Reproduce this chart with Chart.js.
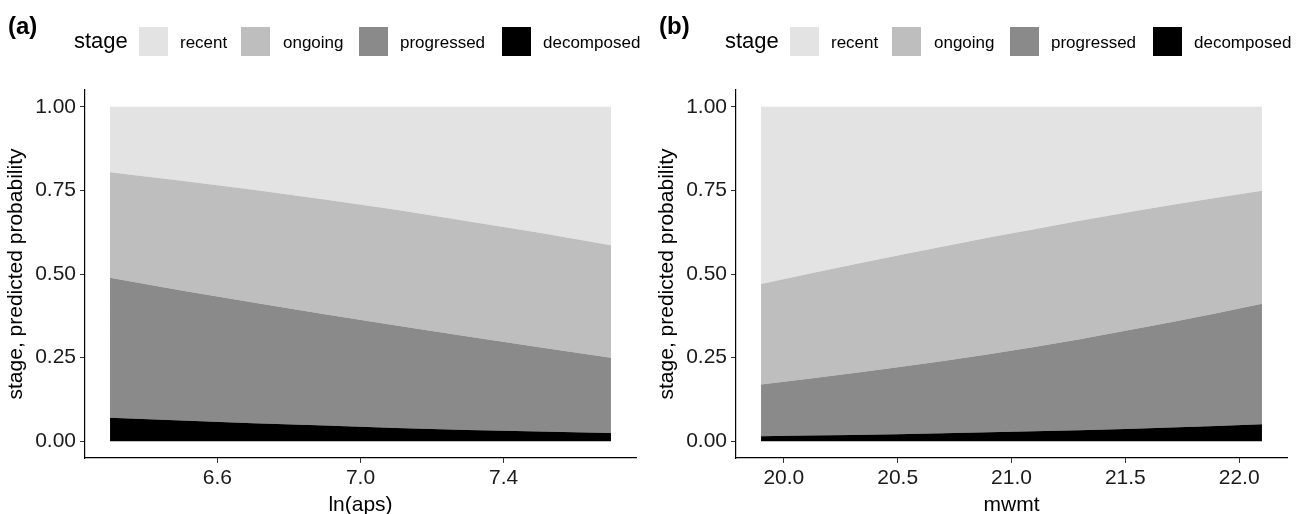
<!DOCTYPE html>
<html>
<head>
<meta charset="utf-8">
<script src="https://cdn.jsdelivr.net/npm/chart.js@4.4.1/dist/chart.umd.min.js"></script>
<style>
  body { margin: 0; background: #fff; font-family: "Liberation Sans", Arial, sans-serif; }
  .panel { position: absolute; top: 0; width: 651px; height: 514px; }
  .panel canvas { position: absolute; left: 0; top: 0; }
  .tag { position: absolute; left: 8px; top: 12px; font-size: 24px; font-weight: bold; color: #000; }
  .ltitle { position: absolute; left: 74px; top: 28px; font-size: 22px; line-height: 26px; color: #000; }
  .sw { position: absolute; top: 27px; width: 29px; height: 29px; }
  .lab { position: absolute; top: 33px; font-size: 17px; line-height: 20px; color: #000; }
</style>
</head>
<body>
<div class="panel" id="pa" style="left:0"><canvas id="ca" width="651" height="514"></canvas></div>
<div class="panel" id="pb" style="left:651px"><canvas id="cb" width="651" height="514"></canvas></div>
<script>
// stage names and fills (legend order)
var stages = ['recent', 'ongoing', 'progressed', 'decomposed'];
var stageColors = ['#e3e3e3', '#bebebe', '#8a8a8a', '#000000'];

var yTicks = [0, 0.25, 0.5, 0.75, 1];

// panel (a): ln(aps)
var apsX = [6.3, 6.5, 6.7, 6.9, 7.1, 7.3, 7.5, 7.7];
var apsRecent     = [0.196, 0.221, 0.248, 0.277, 0.308, 0.342, 0.377, 0.414];
var apsOngoing    = [0.315, 0.328, 0.337, 0.343, 0.346, 0.345, 0.342, 0.336];
var apsProgressed = [0.419, 0.389, 0.361, 0.333, 0.306, 0.279, 0.252, 0.225];
var apsDecomposed = [0.070, 0.062, 0.054, 0.047, 0.040, 0.034, 0.029, 0.025];
var apsTicks = [6.6, 7.0, 7.4];

// panel (b): mwmt
var mwmtX = [19.9, 20.1, 20.3, 20.5, 20.7, 20.9, 21.1, 21.3, 21.5, 21.7, 21.9, 22.1];
var mwmtRecent     = [0.530, 0.501, 0.472, 0.445, 0.418, 0.391, 0.366, 0.341, 0.317, 0.294, 0.272, 0.251];
var mwmtOngoing    = [0.300, 0.313, 0.325, 0.334, 0.342, 0.349, 0.352, 0.354, 0.353, 0.350, 0.345, 0.338];
var mwmtProgressed = [0.155, 0.169, 0.184, 0.200, 0.216, 0.233, 0.252, 0.272, 0.293, 0.315, 0.337, 0.360];
var mwmtDecomposed = [0.015, 0.017, 0.019, 0.021, 0.024, 0.027, 0.030, 0.033, 0.037, 0.041, 0.046, 0.051];
var mwmtTicks = [20.0, 20.5, 21.0, 21.5, 22.0];

var swatchX = [139, 241, 359, 502];
var labelX = [180, 283, 400, 543];

function addLegend(panel, tag) {
  var html = '<div class="tag">' + tag + '</div><div class="ltitle">stage</div>';
  for (var i = 0; i < stages.length; i++) {
    html += '<div class="sw" style="left:' + swatchX[i] + 'px;background:' + stageColors[i] + '"></div>';
    html += '<div class="lab" style="left:' + labelX[i] + 'px">' + stages[i] + '</div>';
  }
  panel.insertAdjacentHTML('beforeend', html);
}

function pts(xs, ys) {
  return xs.map(function (x, i) { return {x: x, y: ys[i]}; });
}

function makeChart(canvas, xs, series, xmin, xmax, xticks, xtitle) {
  // bottom of the stack first
  var order = [3, 2, 1, 0];
  var datasets = order.map(function (k, j) {
    return {
      label: stages[k],
      data: pts(xs, series[k]),
      backgroundColor: stageColors[k],
      borderWidth: 0,
      pointRadius: 0,
      tension: 0,
      fill: j === 0 ? 'origin' : '-1'
    };
  });
  var axisFont = {family: '"Liberation Sans", Arial, sans-serif', size: 21};
  var titleFont = {family: '"Liberation Sans", Arial, sans-serif', size: 21, lineHeight: 0.8};
  return new Chart(canvas, {
    type: 'line',
    data: {datasets: datasets},
    options: {
      responsive: false,
      animation: false,
      layout: {padding: {top: 90, right: 15, bottom: 0, left: 0}},
      plugins: {legend: {display: false}, tooltip: {enabled: false}},
      scales: {
        x: {
          type: 'linear', min: xmin, max: xmax,
          afterBuildTicks: function (s) { s.ticks = xticks.map(function (v) { return {value: v}; }); },
          afterFit: function (s) { s.height = 56; },
          ticks: {callback: function (v) { return v.toFixed(1); }, color: '#1a1a1a', font: axisFont, padding: 3, maxRotation: 0},
          grid: {drawOnChartArea: false, drawTicks: true, tickLength: 5, color: '#333'},
          border: {display: true, color: '#000', width: 1.2},
          title: {display: true, text: xtitle, color: '#000', font: titleFont, padding: {top: 0, bottom: 0}}
        },
        y: {
          stacked: true, min: -0.05, max: 1.05,
          afterBuildTicks: function (s) { s.ticks = yTicks.map(function (v) { return {value: v}; }); },
          afterFit: function (s) { s.width = 85; },
          ticks: {callback: function (v) { return v.toFixed(2); }, color: '#1a1a1a', font: axisFont, padding: 4},
          grid: {drawOnChartArea: false, drawTicks: true, tickLength: 5, color: '#333'},
          border: {display: true, color: '#000', width: 1.2},
          title: {display: true, text: 'stage, predicted probability', color: '#000', font: titleFont, padding: {top: 8, bottom: 0}}
        }
      }
    }
  });
}

addLegend(document.getElementById('pa'), '(a)');
addLegend(document.getElementById('pb'), '(b)');

makeChart(document.getElementById('ca'), apsX,
  [apsRecent, apsOngoing, apsProgressed, apsDecomposed], 6.23, 7.77, apsTicks, 'ln(aps)');
makeChart(document.getElementById('cb'), mwmtX,
  [mwmtRecent, mwmtOngoing, mwmtProgressed, mwmtDecomposed], 19.79, 22.21, mwmtTicks, 'mwmt');
</script>
</body>
</html>
